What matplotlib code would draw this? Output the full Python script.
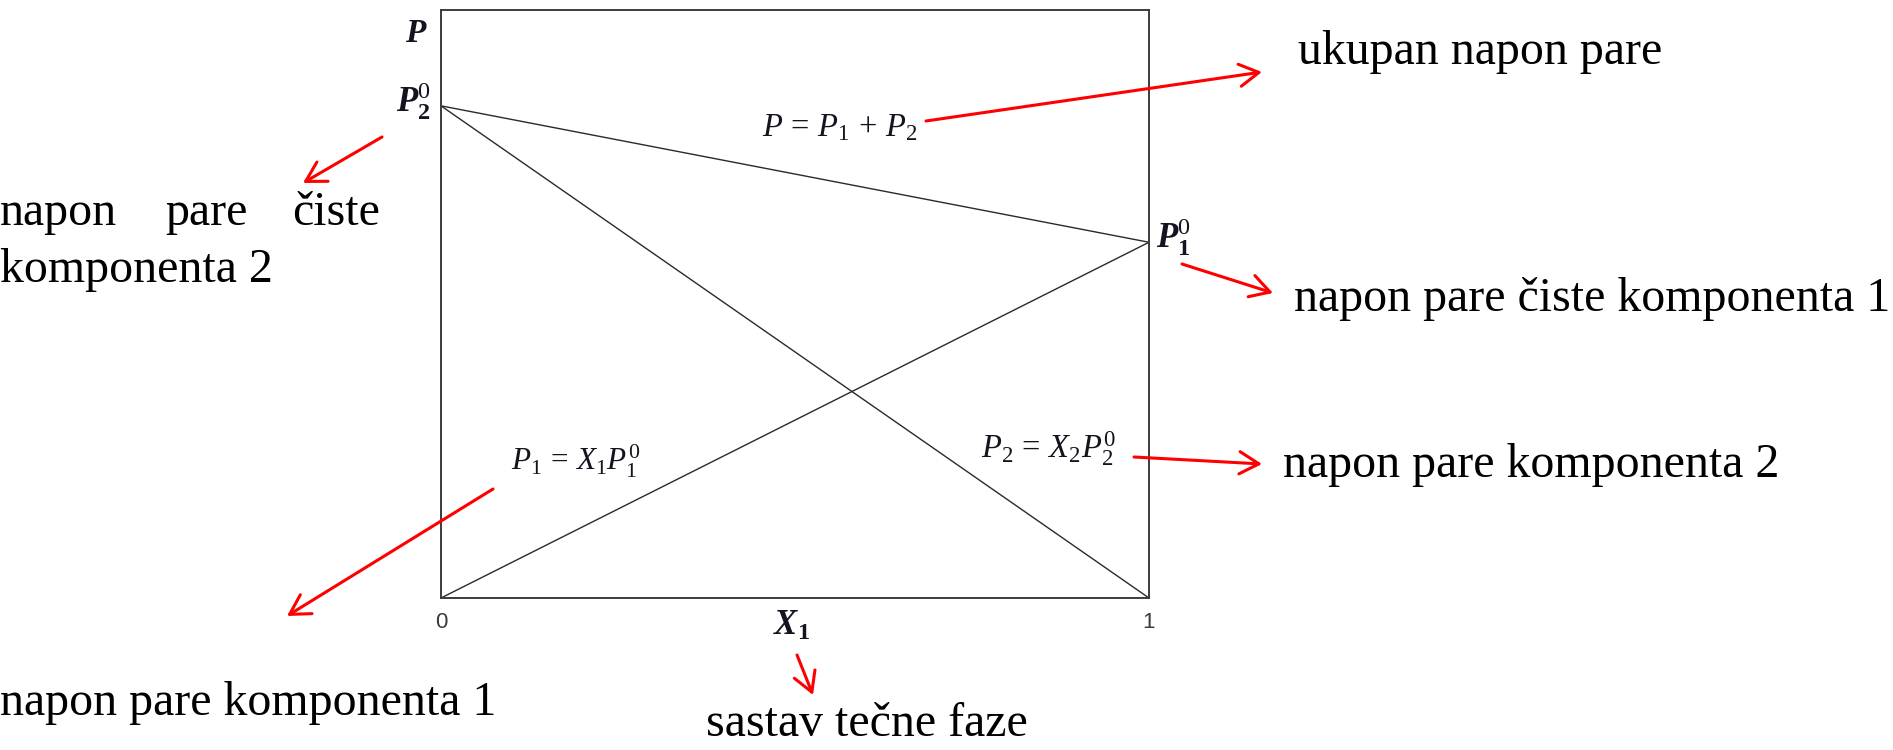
import matplotlib
matplotlib.use("Agg")
import matplotlib.pyplot as plt
from matplotlib.patches import FancyArrowPatch
import numpy as np

# --- data: ideal binary solution (Raoult's law), pressures in relative units ---
x1 = np.array([0.0, 1.0])          # mole fraction of component 1 in liquid
P1_pure = 0.605                     # vapour pressure of pure component 1
P2_pure = 0.837                     # vapour pressure of pure component 2
p1 = x1 * P1_pure                   # partial pressure of component 1
p2 = (1 - x1) * P2_pure             # partial pressure of component 2
p_total = p1 + p2                   # total vapour pressure
x_ticks = [0, 1]
x_tick_labels = ["0", "1"]

W, H = 1893, 750
plt.rcParams["mathtext.fontset"] = "custom"
plt.rcParams["mathtext.rm"] = "Liberation Serif"
plt.rcParams["mathtext.it"] = "Liberation Serif:italic"
plt.rcParams["mathtext.bf"] = "Liberation Serif:italic:bold"
plt.rcParams["mathtext.sf"] = "Liberation Serif:bold"

fig = plt.figure(figsize=(W / 100, H / 100), dpi=100)
fig.patch.set_facecolor("white")

ax = fig.add_axes([441 / W, 1 - 598 / H, 708 / W, 588 / H])
ax.set_xlim(0, 1)
ax.set_ylim(0, 1)
for s in ax.spines.values():
    s.set_color("#3c3c3c")
    s.set_linewidth(1.4)

line_kw = dict(color="#2a2a2a", lw=1.0, solid_capstyle="butt")
ax.plot(x1, p_total, **line_kw)
ax.plot(x1, p1, **line_kw)
ax.plot(x1, p2, **line_kw)

ax.set_yticks([])
ax.set_xticks(x_ticks)
ax.set_xticklabels(x_tick_labels, fontsize=16, family="Liberation Sans", color="#3a3a3a")
ax.tick_params(axis="x", length=0, pad=10)


def fx(px):
    return px / W


def fy(py):
    return 1 - py / H


def ftext(px, py, s, **kw):
    kw.setdefault("va", "baseline")
    kw.setdefault("ha", "left")
    fig.text(fx(px), fy(py), s, **kw)


math_col = "#141420"
# axis and point labels
ftext(405, 42, r"$\mathbf{P}$", fontsize=24, color=math_col)
ftext(396, 112, r"$\mathbf{P}_{\mathsf{2}}^{\mathrm{0}}$", fontsize=25, color=math_col)
ftext(1156, 248, r"$\mathbf{P}_{\mathsf{1}}^{\mathrm{0}}$", fontsize=25, color=math_col)
ftext(773, 635, r"$\mathbf{X}_{\mathsf{1}}$", fontsize=25, color=math_col)

# equations along the lines
ftext(762, 136, r"$P\,=\,P_1\,+\,P_2$", fontsize=23.5, color=math_col)
ftext(511, 471, r"$P_1\,=\,X_1P_1^0$", fontsize=22.5, color=math_col)
ftext(981, 458, r"$P_2\,=\,X_2P_2^0$", fontsize=23.5, color=math_col)

# descriptive labels
big = dict(fontsize=34.5, family="Liberation Serif", color="black")
ftext(1298, 64, "ukupan napon pare", **big)
ftext(1294, 311, "napon pare čiste komponenta 1", **big)
ftext(1283, 477, "napon pare komponenta 2", **big)
ftext(0, 225, "napon", **big)
ftext(165, 225, "pare", **big)
ftext(292, 225, "čiste", **big)
ftext(0, 282, "komponenta 2", **big)
ftext(0, 715, "napon pare komponenta 1", **big)
ftext(706, 736, "sastav tečne faze", **big)

# red pointer arrows
arrows = [
    ((926, 121), (1262, 72)),
    ((382, 137), (303, 183)),
    ((1182, 264), (1273, 293)),
    ((1134, 457), (1262, 464)),
    ((493, 489), (287, 616)),
    ((797, 655), (813, 695)),
]
for (xa, ya), (xb, yb) in arrows:
    arr = FancyArrowPatch(
        (fx(xa), fy(ya)), (fx(xb), fy(yb)),
        transform=fig.transFigure,
        arrowstyle="->,head_length=14,head_width=8",
        mutation_scale=1,
        color="#ff0000", lw=2.2,
        shrinkA=0, shrinkB=0,
    )
    fig.add_artist(arr)

fig.savefig("out.png", dpi=100, facecolor="white")
